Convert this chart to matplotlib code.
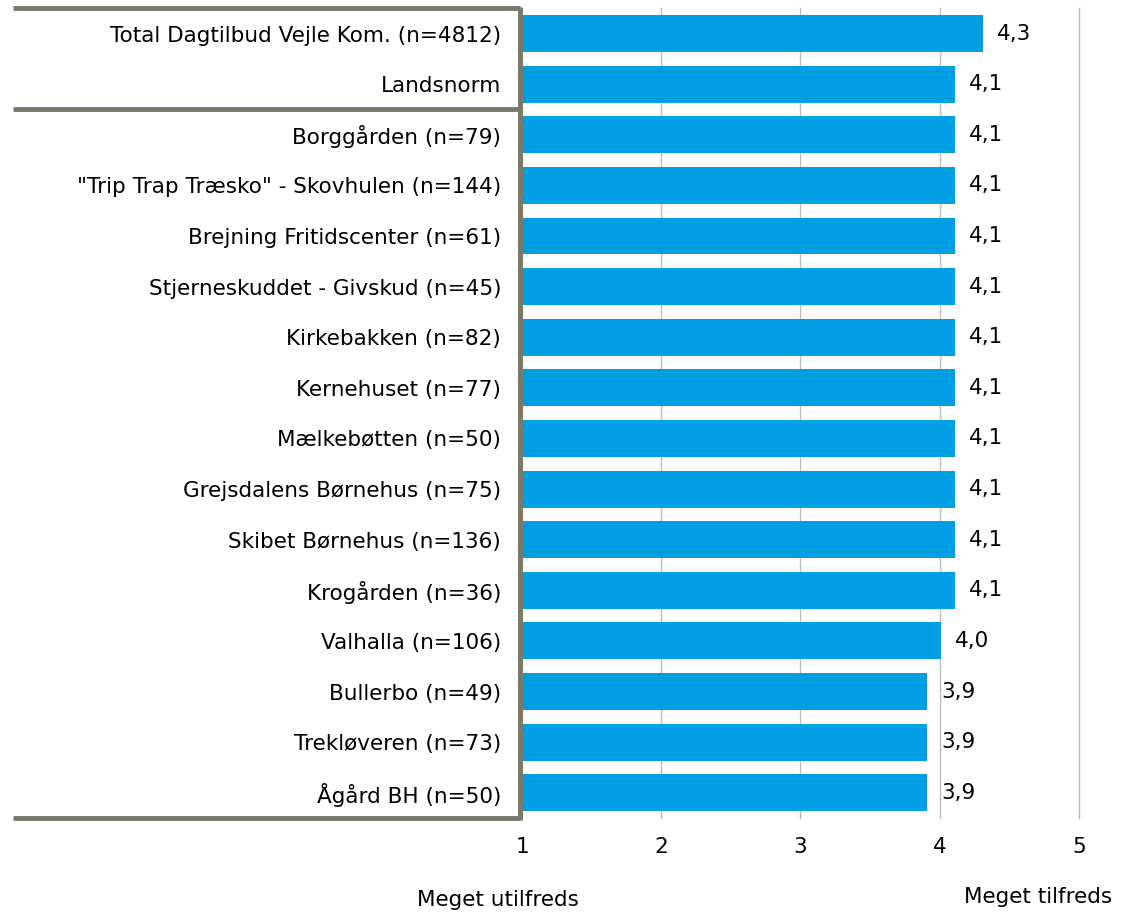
import matplotlib.pyplot as plt
import numpy as np

labels = ["Total Dagtilbud Vejle Kom. (n=4812)", "Landsnorm", "Borggården (n=79)",
          "\"Trip Trap Træsko\" - Skovhulen (n=144)", "Brejning Fritidscenter (n=61)",
          "Stjerneskuddet - Givskud (n=45)", "Kirkebakken (n=82)", "Kernehuset (n=77)",
          "Mælkebøtten (n=50)", "Grejsdalens Børnehus (n=75)", "Skibet Børnehus (n=136)",
          "Krogården (n=36)", "Valhalla (n=106)", "Bullerbo (n=49)",
          "Trekløveren (n=73)", "Ågård BH (n=50)"]
values = [4.3, 4.1, 4.1, 4.1, 4.1, 4.1, 4.1, 4.1, 4.1, 4.1, 4.1, 4.1, 4.0, 3.9, 3.9, 3.9]
xticks = [1, 2, 3, 4, 5]

fs = 15.5
fig = plt.figure(figsize=(11.25, 9.13), dpi=100)
ax = fig.add_axes([0.464, 0.104, 0.495, 0.887])

y = np.arange(len(labels))
ax.barh(y, np.array(values) - 1, left=1.01, height=0.73, color='#009FE3', zorder=3)
for yi, v in zip(y, values):
    ax.text(v + 0.11, yi, f"{v:.1f}".replace('.', ','), va='center', ha='left', fontsize=fs)

ax.set_xlim(1, 5)
ax.set_ylim(len(labels) - 0.5, -0.5)
ax.set_xticks(xticks)
ax.set_xticklabels([str(t) for t in xticks], fontsize=fs)
ax.set_yticks(y)
ax.set_yticklabels(labels, fontsize=fs)
ax.tick_params(length=0)
ax.tick_params(axis='x', pad=14)
ax.tick_params(axis='y', pad=15)
for s in ax.spines.values():
    s.set_visible(False)
ax.xaxis.grid(True, color='#bdbdb5', lw=1, zorder=0)
for gl in ax.get_xgridlines():
    gl.set_clip_on(False)

# frame around the labels
fc = '#7a7868'
kw = dict(transform=ax.transAxes, color=fc, lw=3.5, clip_on=False, solid_capstyle='butt')
ax.plot([-0.914, -0.004], [1, 1], **kw)
ax.plot([-0.914, -0.004], [14 / 16, 14 / 16], **kw)
ax.plot([-0.914, -0.004], [0, 0], **kw)
ax.plot([-0.004, -0.004], [1.002, -0.002], **kw)

fig.text(498 / 1125, 1 - 900 / 913, "Meget utilfreds", ha='center', va='center', fontsize=fs)
fig.text(1038 / 1125, 1 - 897 / 913, "Meget tilfreds", ha='center', va='center', fontsize=fs)

fig.savefig('out.png', dpi=100)
